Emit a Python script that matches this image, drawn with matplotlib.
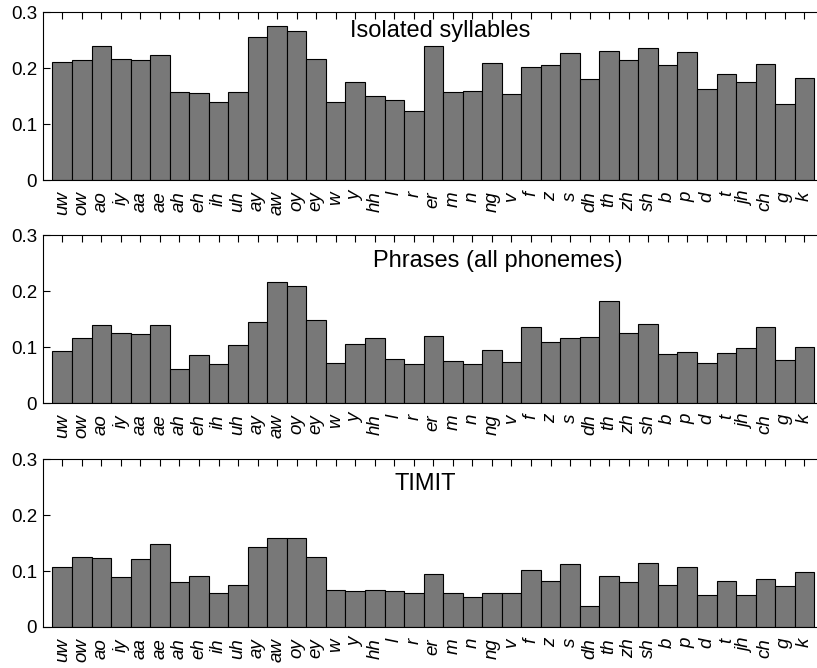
import matplotlib
matplotlib.use("Agg")
import matplotlib.pyplot as plt
import numpy as np

plt.rcParams['font.family'] = ['Liberation Sans', 'DejaVu Sans']

phonemes = ['uw', 'ow', 'ao', 'iy', 'aa', 'ae', 'ah', 'eh', 'ih', 'uh',
            'ay', 'aw', 'oy', 'ey', 'w', 'y', 'hh', 'l', 'r', 'er',
            'm', 'n', 'ng', 'v', 'f', 'z', 's', 'dh', 'th', 'zh',
            'sh', 'b', 'p', 'd', 't', 'jh', 'ch', 'g', 'k']

isolated = [0.212, 0.215, 0.240, 0.217, 0.214, 0.223, 0.157, 0.155, 0.139, 0.157,
            0.256, 0.276, 0.267, 0.217, 0.140, 0.176, 0.150, 0.143, 0.123, 0.240,
            0.157, 0.160, 0.209, 0.154, 0.202, 0.206, 0.227, 0.180, 0.231, 0.214,
            0.237, 0.206, 0.229, 0.162, 0.189, 0.175, 0.207, 0.136, 0.183]

phrases = [0.093, 0.117, 0.140, 0.125, 0.123, 0.140, 0.061, 0.085, 0.070, 0.104,
           0.145, 0.216, 0.209, 0.149, 0.072, 0.105, 0.117, 0.079, 0.070, 0.120,
           0.076, 0.070, 0.094, 0.074, 0.136, 0.110, 0.116, 0.118, 0.182, 0.126,
           0.141, 0.088, 0.091, 0.071, 0.089, 0.098, 0.136, 0.077, 0.101]

timit = [0.107, 0.125, 0.124, 0.090, 0.122, 0.148, 0.080, 0.091, 0.061, 0.076,
         0.144, 0.160, 0.160, 0.126, 0.066, 0.065, 0.066, 0.064, 0.060, 0.095,
         0.061, 0.054, 0.061, 0.060, 0.102, 0.083, 0.112, 0.037, 0.091, 0.080,
         0.115, 0.076, 0.108, 0.058, 0.083, 0.058, 0.086, 0.073, 0.098]

titles = ['Isolated syllables', 'Phrases (all phonemes)', 'TIMIT']
series = [isolated, phrases, timit]

# title anchors (data coords, left/baseline)
title_pos = [(15.75, 0.2555), (16.9, 0.243), (18.0, 0.2455)]
bottoms = [0.7305, 0.3967, 0.0614]

fig = plt.figure(figsize=(8.17, 6.68), dpi=100)
x = np.arange(1, len(phonemes) + 1)

for vals, title, pos, b in zip(series, titles, title_pos, bottoms):
    ax = fig.add_axes([0.0523, b, 0.9562, 0.251])
    ax.bar(x, vals, width=1.0, color='#787878', edgecolor='black', linewidth=0.8)
    ax.set_xlim(0, 40)
    ax.set_ylim(0, 0.3)
    ax.set_yticks([0, 0.1, 0.2, 0.3])
    ax.set_yticklabels(['0', '0.1', '0.2', '0.3'], fontsize=13.5)
    ax.set_xticks(x)
    ax.set_xticklabels(phonemes, rotation=90, fontsize=13.5, style='italic',
                       va='top', ha='center')
    ax.tick_params(axis='x', direction='in', bottom=False, top=True,
                   labelbottom=True, length=5, width=0.8, pad=8)
    ax.tick_params(axis='y', direction='in', left=True, right=True,
                   length=5, width=0.8, pad=4)
    for s in ax.spines.values():
        s.set_linewidth(0.8)
    ax.text(pos[0], pos[1], title, fontsize=17, ha='left', va='baseline')

fig.savefig('out.png', dpi=100)
plt.close(fig)
